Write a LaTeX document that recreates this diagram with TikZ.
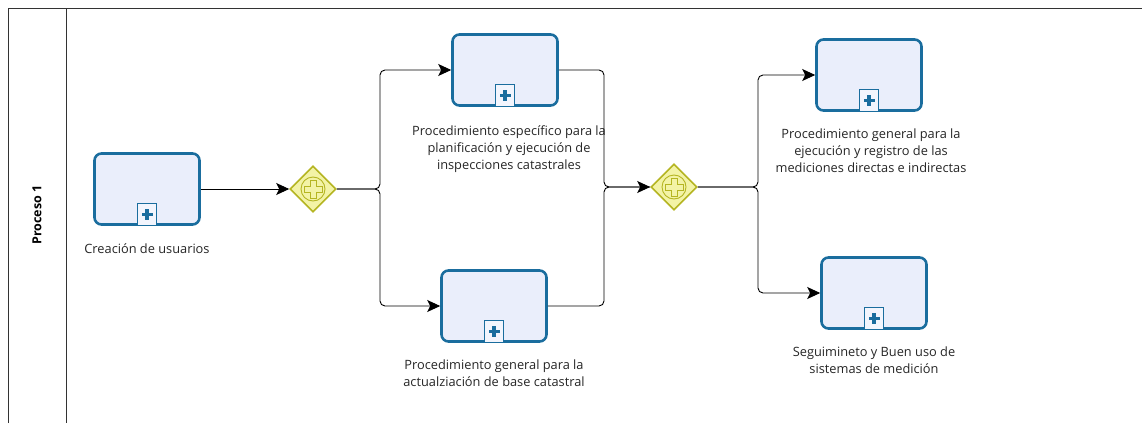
\documentclass[tikz,border=0pt]{standalone}
\usepackage{fontspec}
\setmainfont{Open Sans}
\usetikzlibrary{shapes.geometric,arrows.meta,positioning}
\definecolor{taskborder}{HTML}{1A6D9E}
\definecolor{taskfill}{HTML}{EAEEFB}
\definecolor{gwborder}{HTML}{B5B522}
\definecolor{gwfill}{HTML}{F3F3A6}
\tikzset{
  x=1pt,y=-1pt,
  taskbox/.style={draw=taskborder,fill=taskfill,line width=2.6pt,rounded corners=7pt,minimum width=105pt,minimum height=71pt,inner sep=0pt},
  gateway/.style={diamond,draw=gwborder,fill=gwfill,line width=1.6pt,minimum width=46pt,minimum height=46pt,inner sep=0pt},
  tasklabel/.style={font=\fontsize{12.8pt}{17pt}\selectfont,align=center,text=black!85,inner sep=0pt},
  flow/.style={draw=black,line width=0.9pt,rounded corners=5pt,-{Stealth[length=13pt,width=12pt,inset=3pt]}},
  seg/.style={draw=black,line width=0.9pt,rounded corners=5pt},
}
\newcommand{\submarker}[1]{%
  \draw[taskborder,line width=1.2pt,fill=taskfill!60!white] ([xshift=-9.5pt,yshift=0pt]#1.south) rectangle ([xshift=9.5pt,yshift=22pt]#1.south);
  \fill[taskborder] ([xshift=-1.7pt,yshift=6pt]#1.south) rectangle ([xshift=1.7pt,yshift=17pt]#1.south);
  \fill[taskborder] ([xshift=-5.5pt,yshift=9.8pt]#1.south) rectangle ([xshift=5.5pt,yshift=13.2pt]#1.south);
}
\newcommand{\gwplus}[1]{%
  \draw[gwborder,line width=0.9pt] (#1.center) circle (12pt);
  \draw[gwborder,line width=0.8pt] ([xshift=-3pt,yshift=-9pt]#1.center) -- ([xshift=3pt,yshift=-9pt]#1.center) -- ([xshift=3pt,yshift=-3pt]#1.center) -- ([xshift=9pt,yshift=-3pt]#1.center) -- ([xshift=9pt,yshift=3pt]#1.center) -- ([xshift=3pt,yshift=3pt]#1.center) -- ([xshift=3pt,yshift=9pt]#1.center) -- ([xshift=-3pt,yshift=9pt]#1.center) -- ([xshift=-3pt,yshift=3pt]#1.center) -- ([xshift=-9pt,yshift=3pt]#1.center) -- ([xshift=-9pt,yshift=-3pt]#1.center) -- ([xshift=-3pt,yshift=-3pt]#1.center) -- cycle;
}
\begin{document}
\begin{tikzpicture}
\useasboundingbox[fill=white] (0,0) rectangle (1142,423);
% pool
\draw[line width=1pt,black!80] (8,423) -- (8,8) -- (1142,8);
\draw[line width=1pt,black!80] (66,8) -- (66,423);
\node[rotate=90,font=\bfseries\fontsize{12.5pt}{14pt}\selectfont] (lane) at (37,215) {Proceso 1};
% tasks
\node[taskbox] (t1) at (147,189) {};
\node[taskbox] (t2) at (505,70) {};
\node[taskbox] (t3) at (494,306) {};
\node[taskbox] (t4) at (869,75) {};
\node[taskbox] (t5) at (874,293) {};
\submarker{t1}\submarker{t2}\submarker{t3}\submarker{t4}\submarker{t5}
% labels
\node[tasklabel] (l1) at (147,249) {Creación de usuarios};
\node[tasklabel,anchor=north] (l2) at (509,125) {Procedimiento específico para la\\planificación y ejecución de\\inspecciones catastrales};
\node[tasklabel,anchor=north] (l3) at (494,360) {Procedimiento general para la\\actualziación de base catastral};
\node[tasklabel,anchor=north] (l4) at (871,129) {Procedimiento general para la\\ejecución y registro de las\\mediciones directas e indirectas};
\node[tasklabel,anchor=north] (l5) at (874,347) {Seguimineto y Buen uso de\\sistemas de medición};
% gateways
\node[gateway] (g1) at (313,189) {};
\node[gateway] (g2) at (674,187) {};
\gwplus{g1}\gwplus{g2}
% flows
\path[flow] (t1.east) -- (g1.west);
\path[flow] (g1.east) -- (380,189) |- (t2.west);
\path[flow] (g1.east) -- (380,189) |- (t3.west);
\path[seg] (t2.east) -- (604,70) |- (g2.west);
\path[flow] (t3.east) -- (604,306) |- (g2.west);
\path[flow] (g2.east) -- (758,187) |- (t4.west);
\path[flow] (g2.east) -- (758,187) |- (t5.west);
\end{tikzpicture}
\end{document}
